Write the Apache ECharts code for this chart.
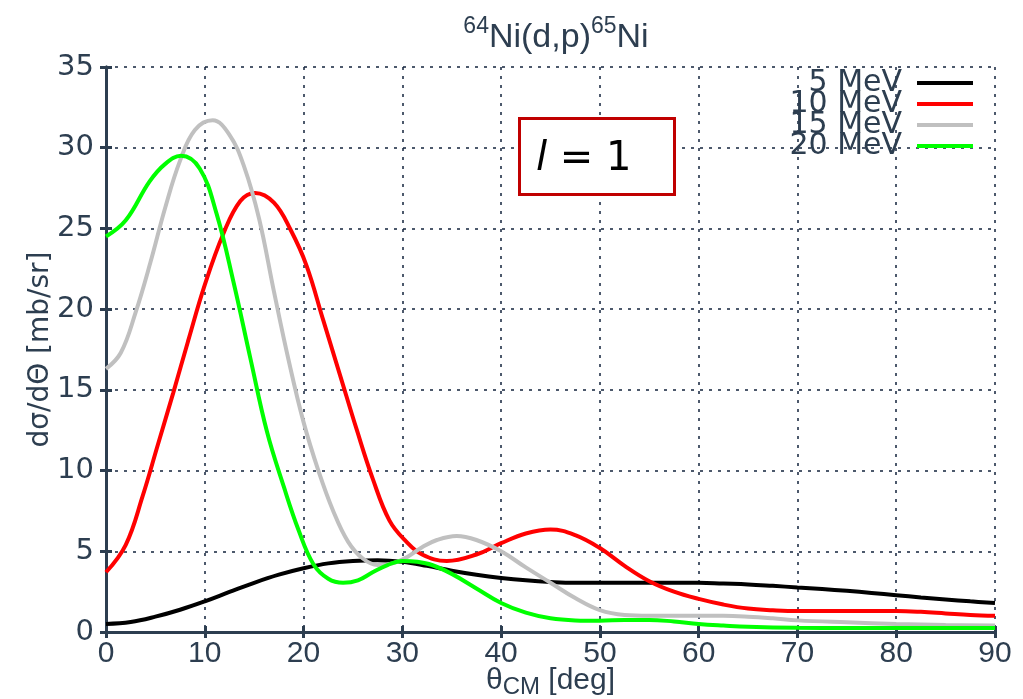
<!DOCTYPE html>
<html>
<head>
<meta charset="utf-8">
<script src="https://cdn.jsdelivr.net/npm/echarts@6/dist/echarts.min.js"></script>
<style>html,body{margin:0;padding:0;background:#fff;}#c{width:1023px;height:699px;}</style>
</head>
<body>
<div id="c"></div>
<script>
const seriesNames = ['5 MeV','10 MeV','15 MeV','20 MeV'];
const ang5  = [0,2.5,5,7.5,10,12.5,15,17.5,20,22.5,25,27.5,30,32.5,35,37.5,40,42.5,45,47.5,50,55,60,62.5,65,67.5,70,72.5,75,77.5,80,82.5,85,87.5,90];
const val5  = [0.5,0.62,0.95,1.38,1.9,2.48,3.05,3.55,3.95,4.25,4.4,4.45,4.35,4.1,3.8,3.55,3.35,3.2,3.1,3.05,3.05,3.05,3.05,3.0,2.95,2.86,2.76,2.66,2.55,2.42,2.28,2.14,2.02,1.9,1.8];
const ang10 = [0,2,3.7,5.25,6.8,8.3,10,11.9,13.6,15.1,17,18.7,20.3,22,23.7,25.4,27,28.7,30.4,32,34.5,37.5,40,42.5,45,47.5,50,52.5,55,57.5,60,62.5,65,67.5,70,80,82.5,85,87.5,90];
const val10 = [3.7,5.4,8.4,11.6,14.8,18.0,21.5,24.7,26.7,27.2,26.6,24.9,22.7,19.3,15.9,12.5,9.5,6.9,5.6,4.8,4.4,4.8,5.5,6.1,6.35,6.0,5.2,4.1,3.15,2.5,2.05,1.7,1.45,1.35,1.3,1.3,1.25,1.15,1.05,1.0];
const ang15 = [0,1.5,3,4.5,6,7.5,9,10.8,12.5,14,15.5,17,18.5,20,21.5,23,24.5,26,27.5,29,30.5,32,33.5,35.5,37.5,40,42.5,45,47.5,50,52.5,55,60,62.5,65,67.5,70,75,80,85,90];
const val15 = [16.3,17.3,19.8,22.9,26.3,29.2,31.1,31.7,30.8,28.8,25.6,21.1,16.8,13.0,10.0,7.5,5.6,4.55,4.15,4.25,4.65,5.25,5.7,5.95,5.7,5.0,4.0,3.05,2.1,1.35,1.05,1.0,1.0,1.0,0.95,0.85,0.72,0.6,0.5,0.43,0.4];
const ang20 = [0,2,4.4,6,7.6,9.5,11.2,12.9,14.6,16.3,18,19.5,21,22.5,24,25.5,27,28.5,30,31.5,33,35,37.5,40,42.5,45,47.5,50,52.5,55,57.5,60,62.5,65,70,75,90];
const val20 = [24.5,25.5,27.9,29.0,29.5,28.7,25.9,21.7,17.0,12.4,9.0,6.3,4.2,3.3,3.05,3.2,3.7,4.15,4.4,4.35,4.15,3.6,2.7,1.8,1.2,0.85,0.72,0.7,0.75,0.75,0.65,0.5,0.4,0.32,0.26,0.25,0.25];
const xTicks = [0,10,20,30,40,50,60,70,80,90];
const yTicks = [0,5,10,15,20,25,30,35];
const colors = ['#000000','#ff0000','#c0c0c0','#00ff00'];

const allAngles = [ang5, ang10, ang15, ang20];
const allValues = [val5, val10, val15, val20];
const axisColor = '#2d3e50';
const sans = '"Liberation Sans", Arial, sans-serif';
const dejavu = '"DejaVu Sans", sans-serif';

const chart = echarts.init(document.getElementById('c'), null, {renderer:'canvas'});

const frameAxis = {
  axisLine:{show:true, lineStyle:{color:axisColor, width:3}},
  axisTick:{show:true, inside:true, length:6, lineStyle:{color:axisColor, width:3}},
  axisLabel:{show:false},
  splitLine:{show:false}
};

chart.setOption({
  animation:false,
  backgroundColor:'#fff',
  title:{
    text:'{sup|64}{m|Ni(d,p)}{sup|65}{m|Ni}',
    left:551, top:10, textAlign:'center',
    textStyle:{
      fontWeight:'normal',
      rich:{
        m:{fontSize:34, color:axisColor, fontFamily:sans, fontWeight:'normal', lineHeight:40, verticalAlign:'bottom'},
        sup:{fontSize:23, color:axisColor, fontFamily:sans, fontWeight:'normal', lineHeight:40, verticalAlign:'top'}
      }
    }
  },
  grid:{left:106, right:28, top:67, bottom:67, containLabel:false, outerBoundsMode:'none'},
  legend:{
    orient:'vertical', right:45, top:63, align:'right',
    itemWidth:56, itemHeight:4, itemGap:-9, icon:'rect',
    data:seriesNames,
    textStyle:{fontSize:30, color:axisColor, fontFamily:dejavu, lineHeight:20.5, padding:[0,10,0,0]}
  },
  xAxis:[{
    type:'value', min:0, max:90, interval:10,
    name:'θ{sub|CM} [deg]', nameLocation:'middle', nameGap:31, nameMoveOverlap:false,
    nameTextStyle:{fontSize:30, color:axisColor, fontFamily:sans,
      rich:{sub:{fontSize:24, color:axisColor, fontFamily:sans, padding:[12,0,0,0]}}},
    axisLine:{show:true, lineStyle:{color:axisColor, width:3}},
    axisTick:{show:true, inside:true, length:6, lineStyle:{color:axisColor, width:3}},
    axisLabel:{fontSize:30, color:axisColor, fontFamily:sans, margin:7,
      formatter:(v)=> xTicks.includes(v) ? String(v) : ''},
    splitLine:{show:true, lineStyle:{color:'#13233d', width:1.5, type:[3,6]}}
  },{
    type:'value', min:0, max:90, interval:10, position:'top', ...frameAxis
  }],
  yAxis:[{
    type:'value', min:0, max:35, interval:5,
    name:'dσ/dΘ [mb/sr]', nameLocation:'middle', nameGap:51, nameMoveOverlap:false,
    nameTextStyle:{fontSize:28, color:axisColor, fontFamily:dejavu},
    axisLine:{show:true, lineStyle:{color:axisColor, width:3}},
    axisTick:{show:true, inside:true, length:6, lineStyle:{color:axisColor, width:3}},
    axisLabel:{fontSize:29, color:axisColor, fontFamily:dejavu, margin:12,
      formatter:(v)=> yTicks.includes(v) ? String(v) : ''},
    splitLine:{show:true, lineStyle:{color:'#13233d', width:1.5, type:[3,6]}}
  },{
    type:'value', min:0, max:35, interval:5, position:'right', ...frameAxis
  }],
  series: seriesNames.map((n,i)=>({
    name:n, type:'line', smooth:0.4, symbol:'none',
    data: allAngles[i].map((a,j)=>[a, allValues[i][j]]),
    lineStyle:{color:colors[i], width:4},
    itemStyle:{color:colors[i]},
    z: 3
  })),
  graphic:[
    {type:'rect', left:518, top:117, shape:{width:155, height:76},
     style:{fill:'#fff', stroke:'#c00000', lineWidth:3}, z:10},
    {type:'text', left:536, top:140,
     style:{text:'{i|l} = 1', fill:'#000', font:'40px "DejaVu Sans", sans-serif',
       rich:{i:{fontStyle:'italic', fontSize:40, fontFamily:dejavu, fill:'#000'}}}, z:11}
  ]
});
</script>
</body>
</html>
